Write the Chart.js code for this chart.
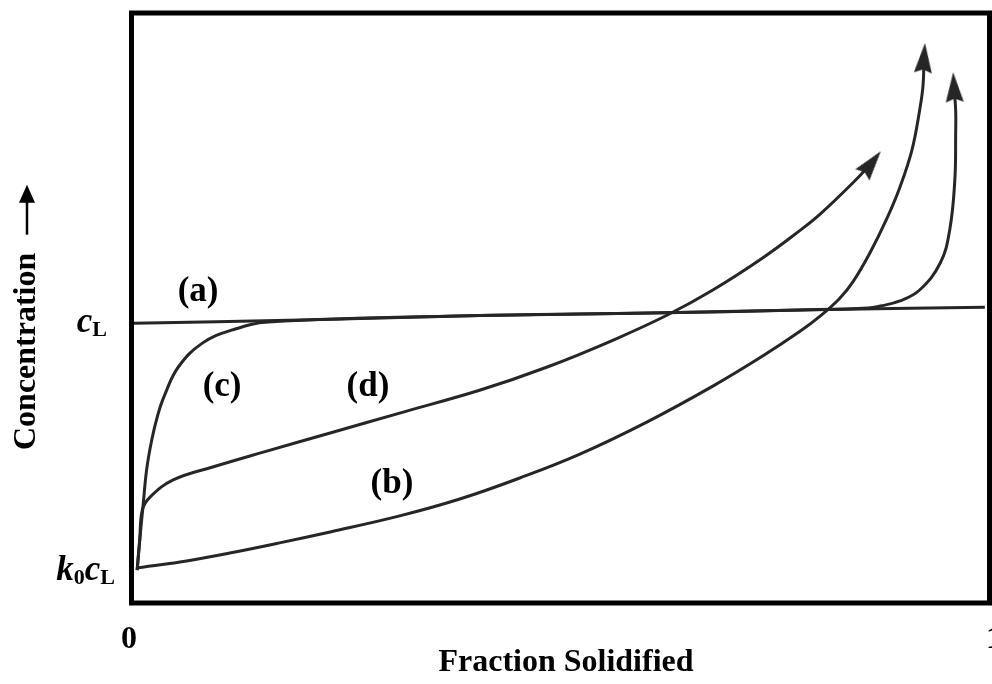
<!DOCTYPE html>
<html>
<head>
<meta charset="utf-8">
<script src="https://cdn.jsdelivr.net/npm/chart.js@4.4.0/dist/chart.umd.min.js"></script>
<style>
html, body { margin: 0; padding: 0; background: #fff; }
canvas { display: block; }
</style>
</head>
<body>
<canvas id="chart" width="992" height="684"></canvas>
<script>
// x = fraction solidified, y = concentration (cL = 1)
const a_x = [0.002, 0.196, 0.406, 0.604, 0.779, 0.994];
const a_y = [0.996, 1.007, 1.023, 1.032, 1.043, 1.053];

const b_x = [0.006, 0.056, 0.114, 0.172, 0.231, 0.312, 0.382, 0.452, 0.522, 0.600, 0.677, 0.735, 0.779, 0.802, 0.825, 0.840, 0.860, 0.880, 0.895, 0.909, 0.918, 0.922, 0.923];
const b_y = [0.125, 0.146, 0.178, 0.214, 0.253, 0.310, 0.370, 0.445, 0.530, 0.644, 0.772, 0.879, 0.968, 1.021, 1.085, 1.142, 1.246, 1.370, 1.480, 1.612, 1.754, 1.843, 1.940];

const c_x = [0.006, 0.009, 0.013, 0.017, 0.023, 0.030, 0.038, 0.054, 0.082, 0.117, 0.159, 0.406, 0.604, 0.779, 0.858, 0.872, 0.895, 0.918, 0.942, 0.953, 0.959, 0.960, 0.960, 0.958];
const c_y = [0.117, 0.224, 0.349, 0.473, 0.580, 0.669, 0.740, 0.840, 0.925, 0.972, 1.000, 1.023, 1.032, 1.043, 1.050, 1.057, 1.075, 1.114, 1.210, 1.327, 1.505, 1.673, 1.754, 1.836];

const d_x = [0.006, 0.009, 0.012, 0.021, 0.048, 0.094, 0.153, 0.231, 0.312, 0.406, 0.484, 0.561, 0.624, 0.677, 0.735, 0.779, 0.802, 0.840, 0.862];
const d_y = [0.117, 0.224, 0.331, 0.377, 0.438, 0.484, 0.537, 0.605, 0.676, 0.758, 0.840, 0.936, 1.025, 1.114, 1.228, 1.327, 1.384, 1.495, 1.566];

const curve_labels = ['(a)', '(b)', '(c)', '(d)'];
const curve_label_x = [0.077, 0.303, 0.105, 0.275];
const curve_label_y = [1.107, 0.423, 0.769, 0.769];

const x_tick_values = [0, 1];
const x_tick_labels = ['0', '1'];
const y_tick_values = [0.117, 1];
const y_tick_labels = [
    [['k', 'main'], ['0', 'sub'], ['c', 'main'], ['L', 'sub']],
    [['c', 'main'], ['L', 'sub']]
];

const x_title = 'Fraction Solidified';
const y_title = 'Concentration';

const line_color = '#262626';
const serif = '"Liberation Serif", "Times New Roman", serif';

function toPoints(xs, ys){
    return xs.map((x, i) => ({x: x, y: ys[i]}));
}

function makeArrowHead(w, h, color){
    const c = document.createElement('canvas');
    c.width = w;
    c.height = h;
    const g = c.getContext('2d');
    g.fillStyle = color;
    g.beginPath();
    g.moveTo(w / 2, 0);
    g.lineTo(w, h);
    g.lineTo(w / 2, h * 0.88);
    g.lineTo(0, h);
    g.closePath();
    g.fill();
    return c;
}

const arrow_head = makeArrowHead(18, 30, line_color);

function curve(label, xs, ys, arrow, rotation){
    const n = xs.length;
    return {
        label: label,
        data: toPoints(xs, ys),
        borderColor: line_color,
        backgroundColor: line_color,
        borderWidth: 3,
        tension: 0.4,
        fill: false,
        pointRadius: ctx => (arrow && ctx.dataIndex === n - 1) ? 10 : 0,
        pointStyle: ctx => (arrow && ctx.dataIndex === n - 1) ? arrow_head : 'circle',
        pointRotation: rotation,
        pointBorderWidth: 0
    };
}

function drawTickParts(ctx, parts, right, baseline){
    const main_font = 'italic bold 35px ' + serif;
    const sub_font = 'bold 22px ' + serif;
    let total = 0;
    parts.forEach(p => {
        ctx.font = p[1] === 'main' ? main_font : sub_font;
        total += ctx.measureText(p[0]).width;
    });
    let x = right - total;
    ctx.textAlign = 'left';
    ctx.textBaseline = 'alphabetic';
    parts.forEach(p => {
        ctx.font = p[1] === 'main' ? main_font : sub_font;
        ctx.fillText(p[0], x, p[1] === 'main' ? baseline : baseline + 4);
        x += ctx.measureText(p[0]).width;
    });
}

const decorations = {
    id: 'decorations',
    afterDatasetsDraw(chart){
        const ctx = chart.ctx;
        const area = chart.chartArea;
        const xs = chart.scales.x;
        const ys = chart.scales.y;
        ctx.save();

        // frame
        ctx.strokeStyle = '#000';
        ctx.lineWidth = 5;
        ctx.strokeRect(area.left - 0.5, area.top, area.right - area.left, area.bottom - area.top);

        ctx.fillStyle = '#000';

        // curve labels
        ctx.font = 'bold 35px ' + serif;
        ctx.textAlign = 'center';
        ctx.textBaseline = 'middle';
        curve_labels.forEach((t, i) => {
            ctx.fillText(t, xs.getPixelForValue(curve_label_x[i]), ys.getPixelForValue(curve_label_y[i]));
        });

        // x ticks
        ctx.font = 'bold 32px ' + serif;
        x_tick_values.forEach((v, i) => {
            const nudge = i === 0 ? -3 : 4;
            ctx.fillText(x_tick_labels[i], xs.getPixelForValue(v) + nudge, area.bottom + 37);
        });

        // x title
        ctx.fillText(x_title, (area.left + area.right) / 2 + 5, area.bottom + 60);

        // y ticks
        y_tick_values.forEach((v, i) => {
            const right = i === 0 ? area.left - 17 : area.left - 25;
            drawTickParts(ctx, y_tick_labels[i], right, ys.getPixelForValue(v) + 10);
        });

        // y title with arrow
        ctx.translate(27, 450);
        ctx.rotate(-Math.PI / 2);
        ctx.font = 'bold 32px ' + serif;
        ctx.textAlign = 'left';
        ctx.textBaseline = 'middle';
        ctx.fillText(y_title, 0, 0);
        const w = ctx.measureText(y_title).width;
        const s = w + 18;
        ctx.lineWidth = 2.5;
        ctx.beginPath();
        ctx.moveTo(s, 0);
        ctx.lineTo(s + 36, 0);
        ctx.stroke();
        ctx.beginPath();
        ctx.moveTo(s + 50, 0);
        ctx.lineTo(s + 32, -8);
        ctx.lineTo(s + 32, 8);
        ctx.closePath();
        ctx.fill();

        ctx.restore();
    }
};

const chart = new Chart(document.getElementById('chart').getContext('2d'), {
    type: 'line',
    data: {
        datasets: [
            curve('(a)', a_x, a_y, false, 0),
            curve('(b)', b_x, b_y, true, 4),
            curve('(c)', c_x, c_y, true, -3),
            curve('(d)', d_x, d_y, true, 38)
        ]
    },
    options: {
        responsive: false,
        animation: false,
        devicePixelRatio: 1,
        events: [],
        layout: {
            autoPadding: false,
            padding: {left: 132, right: 2, top: 13, bottom: 81}
        },
        scales: {
            x: {type: 'linear', min: 0, max: 1, display: false},
            y: {type: 'linear', min: 0, max: 2.1, display: false}
        },
        plugins: {
            legend: {display: false},
            tooltip: {enabled: false}
        }
    },
    plugins: [decorations]
});
</script>
</body>
</html>
